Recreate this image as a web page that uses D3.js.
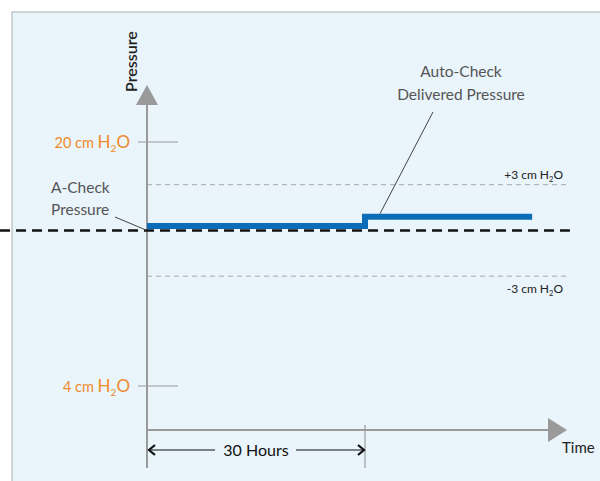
<!DOCTYPE html>
<html><head><meta charset="utf-8">
<script src="https://cdn.jsdelivr.net/npm/d3@7/dist/d3.min.js"></script>
<style>body{margin:0;background:#fff}svg{display:block}text{font-family:Lato,"Open Sans",sans-serif}</style>
</head><body>
<svg id="c" width="600" height="481"></svg>
<script>
// Data
const pressureTicks = [20, 4];
const pressureTickLabels = ["20 cm", "4 cm"];
const aCheckPressure = 14.2;
const toleranceOffsets = [3, -3];
const toleranceLabels = ["+3 cm", "-3 cm"];
const deliveredTimes = [0, 30, 53];
const deliveredPressures = [14.5, 15.1, 15.1];
const intervalHours = 30;
const axisEndTime = 57.8;
const lineEndTime = 58.2;

const svg = d3.select("#c");
const x = d3.scaleLinear().domain([0, 30]).range([147, 365]);
const y = d3.scaleLinear().domain([4, 20]).range([386, 142]);
const axisY = 430, yTop = 85, yBottom = 468;
const gray = "#9a9a9a";

// panel
svg.append("rect").attr("x", 12).attr("y", 12).attr("width", 600).attr("height", 481)
  .attr("fill", "#e9f4fb").attr("stroke", "#b9b9b9").attr("stroke-width", 1.2);

// tolerance dashed lines
toleranceOffsets.forEach((o, i) => {
  const yy = y(aCheckPressure + o);
  svg.append("line").attr("x1", x(0)).attr("x2", x(lineEndTime)).attr("y1", yy).attr("y2", yy)
    .attr("stroke", "#a8a8a8").attr("stroke-width", 1).attr("stroke-dasharray", "5,4");
  const t = svg.append("text").attr("x", 563).attr("y", o > 0 ? yy - 6 : yy + 17)
    .attr("text-anchor", "end").attr("font-size", 12).attr("fill", "#222");
  t.append("tspan").text(toleranceLabels[i] + " H");
  t.append("tspan").attr("font-size", 7.5).attr("dy", 3).text("2");
  t.append("tspan").attr("dy", -3).text("O");
});

// y axis
svg.append("line").attr("x1", x(0)).attr("x2", x(0)).attr("y1", yTop + 18).attr("y2", yBottom)
  .attr("stroke", gray).attr("stroke-width", 2);
svg.append("path").attr("d", `M${x(0)},${yTop} L${x(0)+11},${yTop+20} L${x(0)-11},${yTop+20} Z`).attr("fill", gray);
// x axis
svg.append("line").attr("x1", x(0)).attr("x2", x(axisEndTime) - 16).attr("y1", axisY).attr("y2", axisY)
  .attr("stroke", gray).attr("stroke-width", 2);
svg.append("path").attr("d", `M${x(axisEndTime)},${axisY} L${x(axisEndTime)-19},${axisY-12} L${x(axisEndTime)-19},${axisY+12} Z`).attr("fill", gray);

// y ticks
pressureTicks.forEach((p, i) => {
  const yy = y(p);
  svg.append("line").attr("x1", x(0) - 9).attr("x2", x(0) + 31).attr("y1", yy).attr("y2", yy)
    .attr("stroke", gray).attr("stroke-width", 1.2);
  const t = svg.append("text").attr("x", 130).attr("y", yy + 6).attr("text-anchor", "end")
    .attr("fill", "#f08a2a");
  t.append("tspan").attr("font-size", 14.5).text(pressureTickLabels[i] + " ");
  t.append("tspan").attr("font-size", 17).text("H");
  t.append("tspan").attr("font-size", 10).attr("dy", 4).text("2");
  t.append("tspan").attr("font-size", 17).attr("dy", -4).text("O");
});

// A-Check baseline
svg.append("line").attr("x1", 0).attr("x2", x(lineEndTime)).attr("y1", y(aCheckPressure)).attr("y2", y(aCheckPressure))
  .attr("stroke", "#111").attr("stroke-width", 2.5).attr("stroke-dasharray", "10,6");

// delivered pressure
const pts = deliveredTimes.map((t, i) => [t, deliveredPressures[i]]);
svg.append("path").datum(pts)
  .attr("d", d3.line().x(d => x(d[0])).y(d => y(d[1])).curve(d3.curveStepAfter))
  .attr("fill", "none").attr("stroke", "#0b6cb8").attr("stroke-width", 6);

// annotations
svg.append("text").attr("x", 51).attr("y", 193).attr("font-size", 15.5).attr("fill", "#555").text("A-Check");
svg.append("text").attr("x", 51).attr("y", 215).attr("font-size", 15.5).attr("fill", "#555").text("Pressure");
svg.append("line").attr("x1", 115).attr("y1", 217).attr("x2", x(0)).attr("y2", y(aCheckPressure))
  .attr("stroke", "#444").attr("stroke-width", 1);
svg.append("text").attr("x", 461).attr("y", 77).attr("text-anchor", "middle").attr("font-size", 15.5).attr("fill", "#555").text("Auto-Check");
svg.append("text").attr("x", 461).attr("y", 100).attr("text-anchor", "middle").attr("font-size", 15.5).attr("fill", "#555").text("Delivered Pressure");
svg.append("line").attr("x1", 433).attr("y1", 112).attr("x2", 380).attr("y2", y(deliveredPressures[1]) - 3)
  .attr("stroke", "#444").attr("stroke-width", 1);

// axis titles
svg.append("text").attr("transform", `translate(137,92) rotate(-90)`).attr("font-size", 16).attr("font-weight", 600).attr("fill", "#222").text("Pressure");
svg.append("text").attr("x", 562).attr("y", 453).attr("font-size", 15).attr("fill", "#222").text("Time");

// 30 hours dimension
const dimY = 450;
svg.append("line").attr("x1", x(intervalHours)).attr("x2", x(intervalHours)).attr("y1", 425).attr("y2", yBottom)
  .attr("stroke", gray).attr("stroke-width", 1.2);
svg.append("line").attr("x1", x(0) + 2).attr("x2", 215).attr("y1", dimY).attr("y2", dimY).attr("stroke", "#111").attr("stroke-width", 1.2);
svg.append("line").attr("x1", 296).attr("x2", x(intervalHours) - 1).attr("y1", dimY).attr("y2", dimY).attr("stroke", "#111").attr("stroke-width", 1.2);
svg.append("path").attr("d", `M${x(0)+8},${dimY-5} L${x(0)+2},${dimY} L${x(0)+8},${dimY+5}`).attr("fill", "none").attr("stroke", "#111").attr("stroke-width", 2.2);
svg.append("path").attr("d", `M${x(intervalHours)-7},${dimY-5} L${x(intervalHours)-1},${dimY} L${x(intervalHours)-7},${dimY+5}`).attr("fill", "none").attr("stroke", "#111").attr("stroke-width", 2.2);
svg.append("text").attr("x", (x(0) + x(intervalHours)) / 2 + 0).attr("y", dimY + 6).attr("text-anchor", "middle")
  .attr("font-size", 16).attr("fill", "#111").text(intervalHours + " Hours");
</script>
</body></html>
